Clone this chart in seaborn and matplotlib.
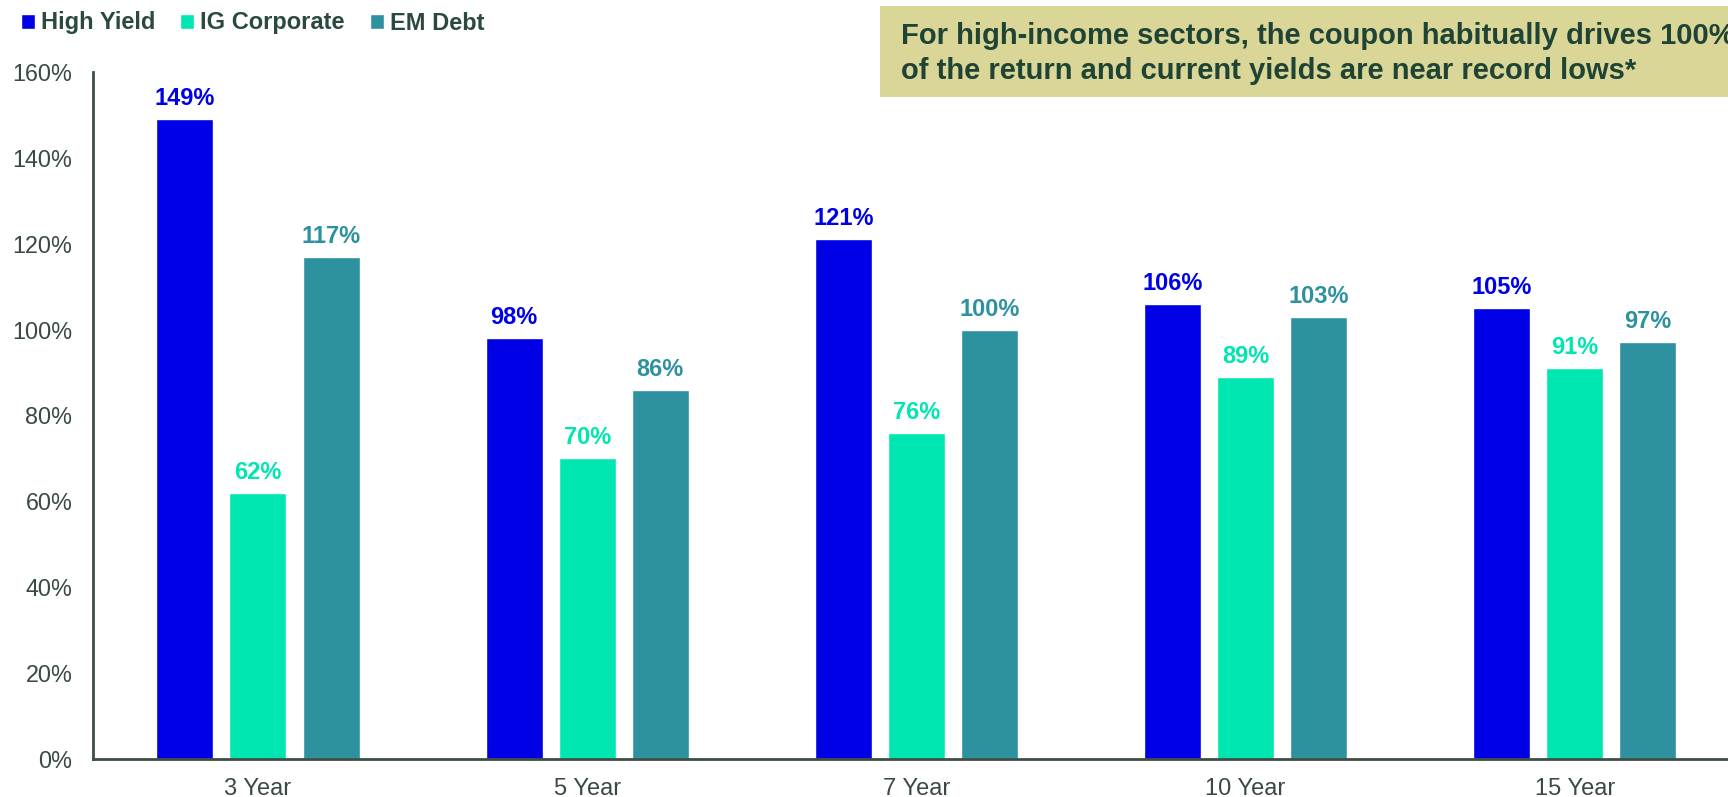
import matplotlib
matplotlib.use("Agg")
import matplotlib.pyplot as plt
from matplotlib.patches import Rectangle
from matplotlib.ticker import FuncFormatter
import seaborn as sns
import pandas as pd

# Share of total return coming from the coupon, by holding period
periods = ["3 Year", "5 Year", "7 Year", "10 Year", "15 Year"]
high_yield = [149, 98, 121, 106, 105]
ig_corporate = [62, 70, 76, 89, 91]
em_debt = [117, 86, 100, 103, 97]
sectors = ["High Yield", "IG Corporate", "EM Debt"]
colors = ["#0000E6", "#00E6B0", "#2E91A0"]
headline = ("For high-income sectors, the coupon habitually drives 100%\n"
            "of the return and current yields are near record lows*")

df = pd.DataFrame({
    "period": periods * 3,
    "sector": [s for s in sectors for _ in periods],
    "value": high_yield + ig_corporate + em_debt,
})

sns.set_theme(style="white")
plt.rcParams["font.family"] = ["Liberation Sans", "DejaVu Sans"]

ink = "#2B4A3D"
fig = plt.figure(figsize=(17.28, 7.97), dpi=100)
ax = fig.add_axes([0.054, 0.0477, 0.9526, 0.862])

sns.barplot(data=df, x="period", y="value", hue="sector", order=periods,
            hue_order=sectors, palette=colors, width=0.666, gap=0.22,
            saturation=1, ax=ax)

for container, col in zip(ax.containers, colors):
    ax.bar_label(container, labels=[f"{v:.0f}%" for v in container.datavalues],
                 padding=6.5, color=col, fontsize=17, fontweight="bold")

ax.set_ylim(0, 160)
ax.set_xlim(-0.5, 4.5)
ax.set_yticks(range(0, 161, 20))
ax.yaxis.set_major_formatter(FuncFormatter(lambda v, _: f"{v:.0f}%"))
ax.set_xlabel("")
ax.set_ylabel("")
ax.tick_params(axis="both", length=0, labelsize=16.8, labelcolor="#3A4A42")
ax.tick_params(axis="y", pad=15)
ax.tick_params(axis="x", pad=14, labelsize=17)
for side in ("top", "right"):
    ax.spines[side].set_visible(False)
for side in ("left", "bottom"):
    ax.spines[side].set_color("#3D4F45")
    ax.spines[side].set_linewidth(2)

handles, labels = ax.get_legend_handles_labels()
ax.legend(handles, labels, loc="center left", bbox_to_anchor=(0.0122, 1 - 23 / 797),
          bbox_transform=fig.transFigure, ncol=3, frameon=False,
          borderaxespad=0, borderpad=0,
          handlelength=0.6, handleheight=0.6, handletextpad=0.25,
          columnspacing=1.05, prop={"weight": "bold", "size": 17},
          labelcolor=ink)

fig.add_artist(Rectangle((880 / 1728, 1 - 97 / 797), 0.5, 91 / 797,
                         transform=fig.transFigure, facecolor="#D9D698",
                         edgecolor="none"))
fig.text(901 / 1728, 1 - 53.5 / 797, headline, ha="left", va="center",
         fontsize=21, fontweight="bold", color="#1F4334", linespacing=1.3)

fig.savefig("out.png", dpi=100)
